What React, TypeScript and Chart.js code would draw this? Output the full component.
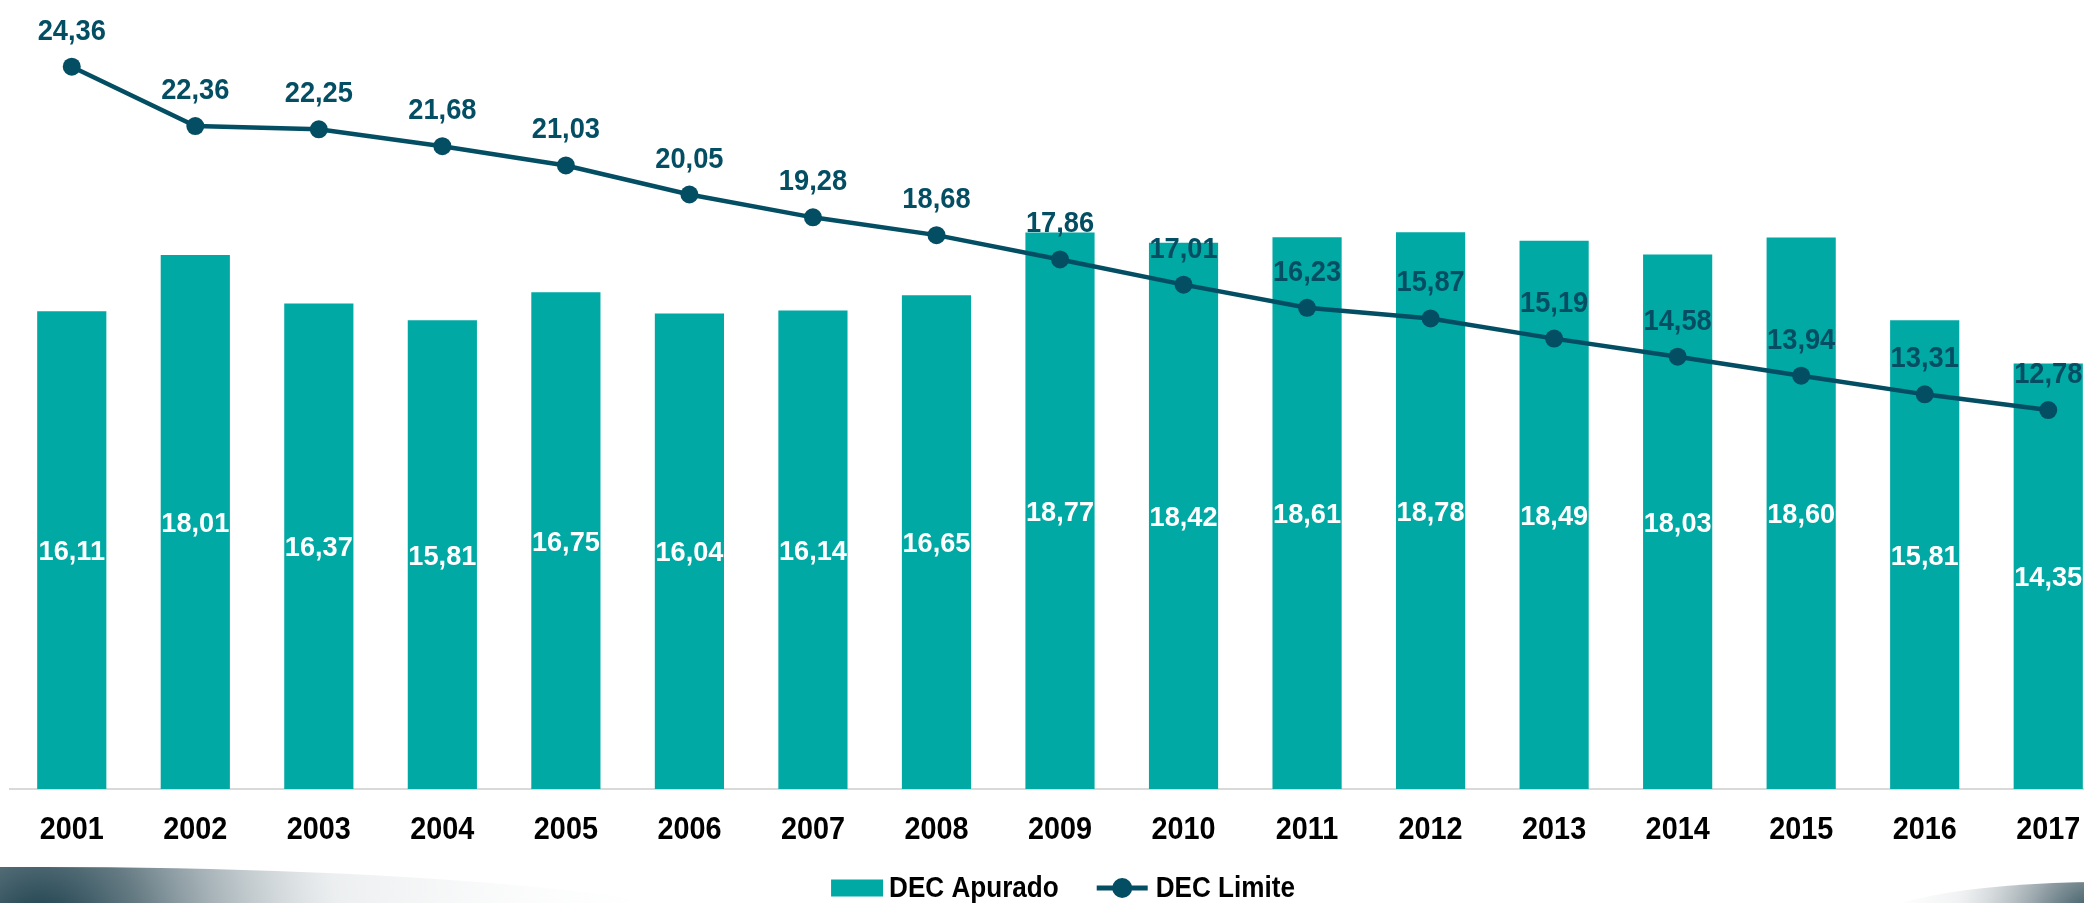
import React, { useEffect, useRef } from "react";
import { Chart, registerables } from "chart.js";

Chart.register(...registerables);

// ---- data ----
const years = ["2001", "2002", "2003", "2004", "2005", "2006", "2007", "2008", "2009", "2010", "2011", "2012", "2013", "2014", "2015", "2016", "2017"];
const decApurado = [16.11, 18.01, 16.37, 15.81, 16.75, 16.04, 16.14, 16.65, 18.77, 18.42, 18.61, 18.78, 18.49, 18.03, 18.6, 15.81, 14.35];
const decLimite = [24.36, 22.36, 22.25, 21.68, 21.03, 20.05, 19.28, 18.68, 17.86, 17.01, 16.23, 15.87, 15.19, 14.58, 13.94, 13.31, 12.78];
const seriesNames = ["DEC Apurado", "DEC Limite"];

// ---- style ----
const BAR_COLOR = "#00A9A4";
const LINE_COLOR = "#044E64";
const FONT = "'Liberation Sans', Arial, sans-serif";
const CANVAS_W = 2110;
const CANVAS_H = 903;

const fmt = (v: number) => v.toFixed(2).replace(".", ",");

function drawNarrow(ctx: CanvasRenderingContext2D, text: string, x: number, y: number, size: number, color: string, align: CanvasTextAlign = "center", sx = 0.88) {
  ctx.save();
  ctx.translate(x, y);
  ctx.scale(sx, 1);
  ctx.font = `bold ${size}px ${FONT}`;
  ctx.fillStyle = color;
  ctx.textAlign = align;
  ctx.textBaseline = "alphabetic";
  ctx.fillText(text, 0, 0);
  ctx.restore();
}

function narrowWidth(ctx: CanvasRenderingContext2D, text: string, size: number, sx = 0.88) {
  ctx.save();
  ctx.font = `bold ${size}px ${FONT}`;
  const w = ctx.measureText(text).width * sx;
  ctx.restore();
  return w;
}

const valueLabels = {
  id: "valueLabels",
  afterDatasetsDraw(chart: any) {
    const ctx = chart.ctx;
    chart.data.datasets.forEach((ds: any, di: number) => {
      const meta = chart.getDatasetMeta(di);
      meta.data.forEach((el: any, i: number) => {
        const v = ds.data[i] as number;
        if (meta.type === "bar") {
          drawNarrow(ctx, fmt(v), el.x, (el.y + el.base) / 2 + 10, 28, "#ffffff", "center", 0.97);
        } else {
          drawNarrow(ctx, fmt(v), el.x, el.y - 27, 29, LINE_COLOR, "center", 0.94);
        }
      });
    });
  },
};

const axisAndLegend = {
  id: "axisAndLegend",
  afterDraw(chart: any) {
    const ctx = chart.ctx as CanvasRenderingContext2D;
    const xs = chart.scales.x;
    xs.ticks.forEach((t: any, i: number) => {
      drawNarrow(ctx, String(xs.getLabelForValue(t.value)), xs.getPixelForTick(i), 839, 32, "#000000", "center", 0.9);
    });
    // legend
    const fs = 29;
    const sx = 0.9;
    const w1 = narrowWidth(ctx, seriesNames[0], fs, sx);
    const w2 = narrowWidth(ctx, seriesNames[1], fs, sx);
    const total = 52 + 6 + w1 + 38 + 51 + 8 + w2;
    let x = 1063 - total / 2;
    const cy = 888;
    ctx.save();
    ctx.fillStyle = BAR_COLOR;
    ctx.fillRect(x, cy - 8.5, 52, 17);
    ctx.restore();
    x += 52 + 6;
    drawNarrow(ctx, seriesNames[0], x, 897, fs, "#000000", "left", sx);
    x += w1 + 38;
    ctx.save();
    ctx.strokeStyle = LINE_COLOR;
    ctx.lineWidth = 5;
    ctx.beginPath();
    ctx.moveTo(x, cy);
    ctx.lineTo(x + 51, cy);
    ctx.stroke();
    ctx.fillStyle = LINE_COLOR;
    ctx.beginPath();
    ctx.arc(x + 25.5, cy, 10, 0, Math.PI * 2);
    ctx.fill();
    ctx.restore();
    x += 51 + 8;
    drawNarrow(ctx, seriesNames[1], x, 897, fs, "#000000", "left", sx);
  },
};

const swoosh = {
  id: "swoosh",
  beforeDraw(chart: any) {
    const ctx = chart.ctx;
    ctx.save();
    ctx.fillStyle = "#ffffff";
    ctx.fillRect(0, 0, chart.width, chart.height);
    let g = ctx.createRadialGradient(40, 935, 10, 40, 935, 650);
    g.addColorStop(0, "rgba(10,50,64,0.95)");
    g.addColorStop(0.15, "rgba(40,70,82,0.7)");
    g.addColorStop(0.45, "rgba(180,190,195,0.25)");
    g.addColorStop(1, "rgba(255,255,255,0)");
    ctx.beginPath();
    ctx.ellipse(40, 935, 700, 68, 0, 0, Math.PI * 2);
    ctx.fillStyle = g;
    ctx.fill();
    g = ctx.createRadialGradient(2100, 930, 5, 2100, 930, 240);
    g.addColorStop(0, "rgba(10,50,64,0.95)");
    g.addColorStop(0.25, "rgba(60,85,95,0.6)");
    g.addColorStop(0.6, "rgba(200,205,208,0.25)");
    g.addColorStop(1, "rgba(255,255,255,0)");
    ctx.beginPath();
    ctx.ellipse(2100, 930, 240, 48, 0, 0, Math.PI * 2);
    ctx.fillStyle = g;
    ctx.fill();
    ctx.restore();
  },
};

export default function App() {
  const ref = useRef<HTMLCanvasElement | null>(null);

  useEffect(() => {
    if (!ref.current) return;
    const chart = new Chart(ref.current, {
      type: "bar",
      data: {
        labels: years,
        datasets: [
          {
            type: "bar",
            label: seriesNames[0],
            data: decApurado,
            backgroundColor: BAR_COLOR,
            borderWidth: 0,
            barPercentage: 0.56,
            categoryPercentage: 1,
            order: 2,
          } as any,
          {
            type: "line",
            label: seriesNames[1],
            data: decLimite,
            borderColor: LINE_COLOR,
            backgroundColor: LINE_COLOR,
            borderWidth: 4.5,
            pointRadius: 9,
            pointBackgroundColor: LINE_COLOR,
            pointBorderWidth: 0,
            tension: 0,
            clip: false,
            order: 1,
          } as any,
        ],
      },
      options: {
        responsive: false,
        animation: false,
        devicePixelRatio: 1,
        events: [],
        layout: { autoPadding: false, padding: { left: 10, right: 0, top: 0, bottom: 114 } },
        scales: {
          x: {
            type: "category",
            offset: true,
            grid: { display: true, drawOnChartArea: false, drawTicks: false },
            border: { display: true, color: "#d9d9d9", width: 2 },
            ticks: { display: false, autoSkip: false, maxRotation: 0 },
          },
          y: {
            display: false,
            min: 0,
            max: 26.61,
          },
        },
        plugins: {
          tooltip: { enabled: false },
          legend: { display: false },
        },
      },
      plugins: [swoosh, valueLabels, axisAndLegend],
    });
    return () => chart.destroy();
  }, []);

  return (
    <div style={{ position: "fixed", left: 0, top: 0, width: 2084, height: 903, overflow: "hidden", background: "#ffffff" }}>
      <canvas ref={ref} width={CANVAS_W} height={CANVAS_H} style={{ display: "block", width: CANVAS_W, height: CANVAS_H }} />
    </div>
  );
}
